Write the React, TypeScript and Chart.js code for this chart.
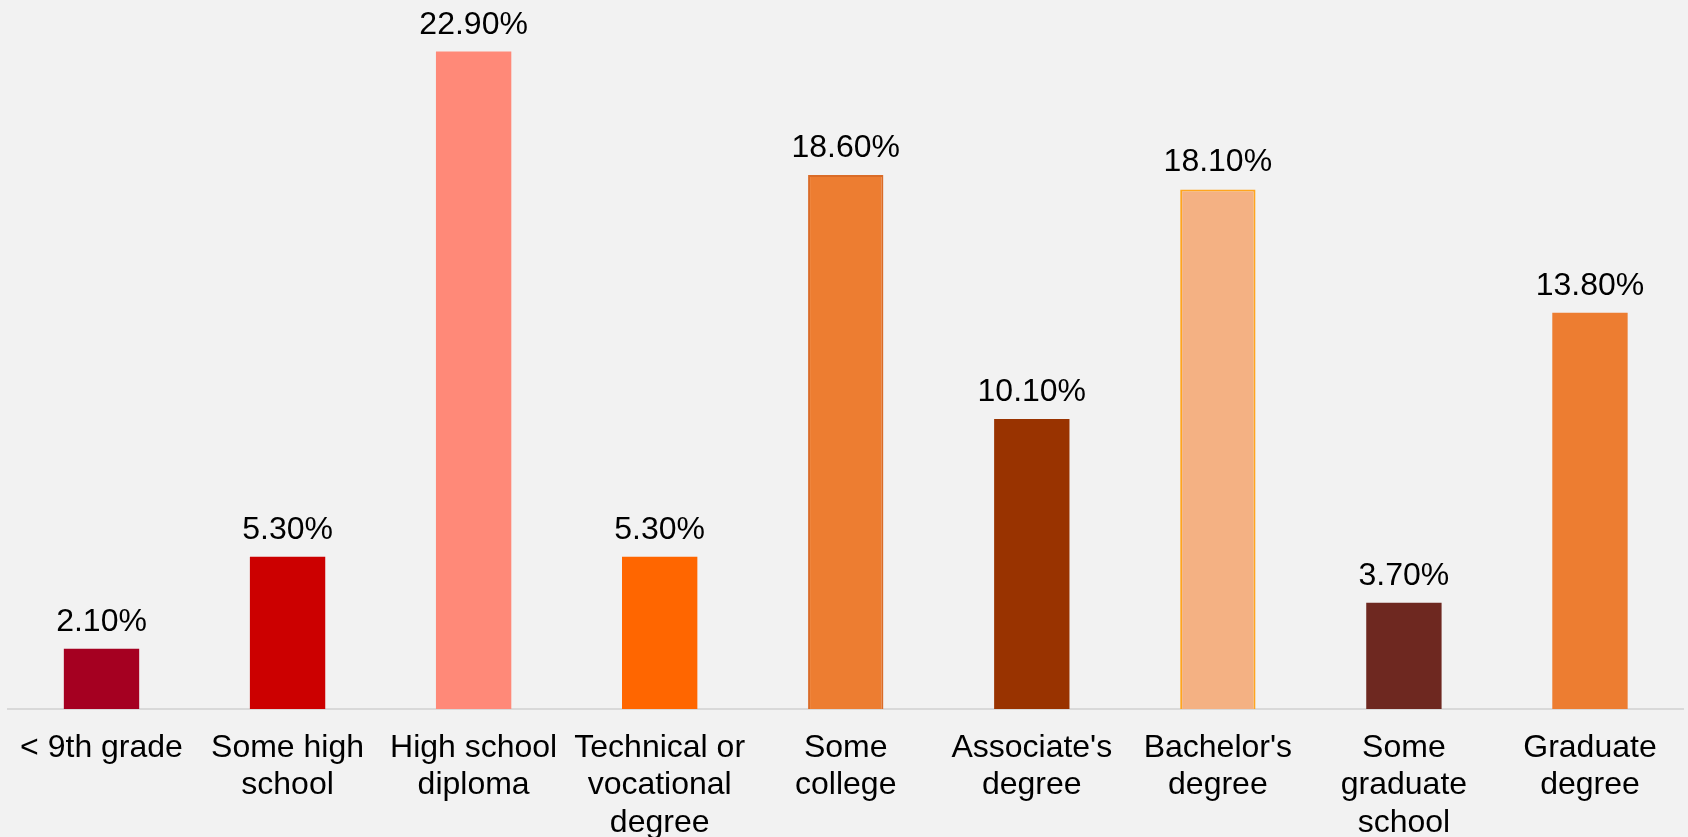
import React, { useEffect, useRef } from "react";
import { Chart, registerables } from "chart.js";

Chart.register(...registerables);

const categories: string[][] = [
  ["< 9th grade"],
  ["Some high", "school"],
  ["High school", "diploma"],
  ["Technical or", "vocational", "degree"],
  ["Some", "college"],
  ["Associate's", "degree"],
  ["Bachelor's", "degree"],
  ["Some", "graduate", "school"],
  ["Graduate", "degree"],
];
const values: number[] = [2.1, 5.3, 22.9, 5.3, 18.6, 10.1, 18.1, 3.7, 13.8];
const barColors: string[] = [
  "#A50021", "#CC0000", "#FF8978", "#FF6600", "#ED7D31",
  "#993300", "#F4B183", "#6E2820", "#ED7D31",
];
const borderColors: string[] = [
  "#A50021", "#CC0000", "#FF8978", "#FF6600", "#DA6C28",
  "#993300", "#FFA51E", "#6E2820", "#ED7D31",
];
const borderWidths: number[] = [0, 0, 0, 0, 2, 0, 2, 0, 0];

const labelPlugin = {
  id: "valueLabels",
  afterDatasetsDraw(chart: any) {
    const ctx = chart.ctx;
    const meta = chart.getDatasetMeta(0);
    ctx.save();
    ctx.font = '32px "Liberation Sans", Arial, sans-serif';
    ctx.fillStyle = "#000000";
    ctx.textAlign = "center";
    ctx.textBaseline = "alphabetic";
    meta.data.forEach((bar: any, i: number) => {
      ctx.fillText(values[i].toFixed(2) + "%", bar.x, bar.y - 18);
    });
    ctx.restore();
  },
};

export default function App() {
  const ref = useRef<HTMLCanvasElement>(null);
  useEffect(() => {
    if (!ref.current) return;
    const chart = new Chart(ref.current, {
      type: "bar",
      data: {
        labels: categories as any,
        datasets: [
          {
            data: values,
            backgroundColor: barColors,
            borderColor: borderColors,
            borderWidth: borderWidths,
            barPercentage: 0.405,
            categoryPercentage: 1,
          },
        ],
      },
      options: {
        animation: false,
        responsive: false,
        maintainAspectRatio: false,
        layout: { padding: { top: 20, left: 2, right: 5, bottom: 0 } },
        plugins: {
          legend: { display: false },
          tooltip: { enabled: false },
        },
        scales: {
          x: {
            grid: { display: false, drawTicks: false },
            border: { display: true, color: "#D9D9D9", width: 2 },
            ticks: {
              color: "#000000",
              font: { family: '"Liberation Sans", Arial, sans-serif', size: 32, lineHeight: 1.18 },
              padding: 20,
              maxRotation: 0,
              autoSkip: false,
            },
            afterFit(scale: any) {
              scale.height = 128;
            },
          },
          y: {
            display: false,
            min: 0,
            max: 24,
          },
        },
      },
      plugins: [labelPlugin],
    });
    return () => chart.destroy();
  }, []);
  return (
    <div
      style={{
        position: "fixed",
        left: 0,
        top: 0,
        width: 1688,
        height: 837,
        background: "#F2F2F2",
      }}
    >
      <canvas ref={ref} width={1688} height={837} style={{ display: "block" }} />
    </div>
  );
}
